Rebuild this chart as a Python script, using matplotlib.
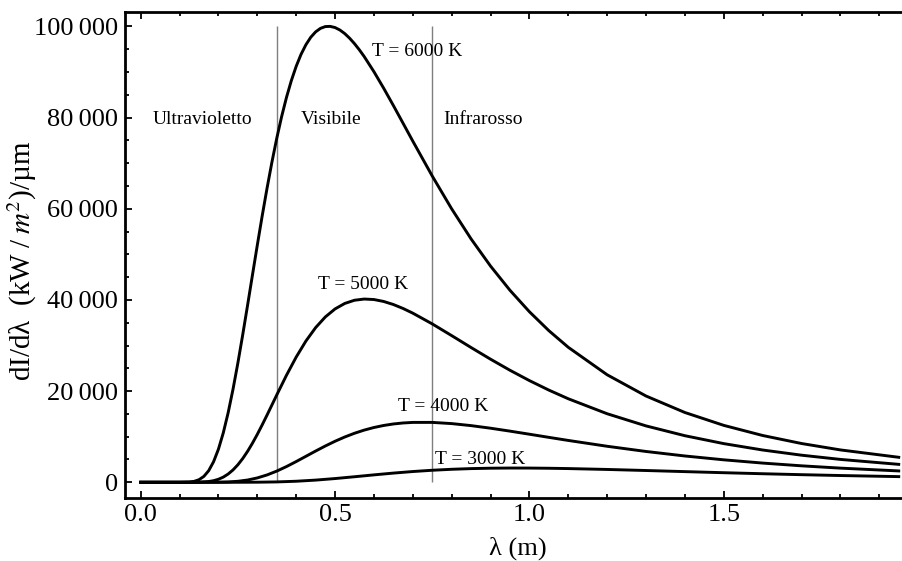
import matplotlib
matplotlib.use("Agg")
import matplotlib.pyplot as plt
from matplotlib.ticker import FixedLocator, FixedFormatter, MultipleLocator

# curve: lunghezza d'onda (um) e dI/dlambda (kW/m^2/um)
lam_6000 = [0.0, 0.05, 0.10, 0.125, 0.1375, 0.15, 0.1625, 0.175, 0.1875, 0.20,
            0.2125, 0.225, 0.2375, 0.25, 0.2625, 0.275, 0.2875, 0.30, 0.3125, 0.325,
            0.3375, 0.35, 0.3625, 0.375, 0.3875, 0.40, 0.4125, 0.425, 0.4375, 0.45,
            0.4625, 0.475, 0.4875, 0.50, 0.5125, 0.525, 0.5375, 0.55, 0.5625, 0.575,
            0.60, 0.625, 0.65, 0.675, 0.70, 0.75, 0.80, 0.85, 0.90, 0.95,
            1.00, 1.05, 1.10, 1.20, 1.30, 1.40, 1.50, 1.60, 1.70, 1.80, 1.95]
i_6000 = [0, 0, 1, 57, 203, 562, 1288, 2551, 4507, 7257,
          10846, 15256, 20404, 26161, 32368, 38855, 45456, 52021, 58405, 64489,
          70196, 75454, 80198, 84426, 88109, 91257, 93881, 95991, 97633, 98816,
          99589, 99981, 100022, 99765, 99222, 98435, 97421, 96231, 94881, 93397,
          90082, 86467, 82664, 78763, 74849, 67194, 59990, 53384, 47431, 42119,
          37414, 33264, 29612, 23583, 18924, 15308, 12485, 10265, 8505, 7099, 5483]

lam_5000 = [0.0, 0.05, 0.10, 0.125, 0.15, 0.175, 0.1875, 0.20, 0.2125, 0.225,
            0.2375, 0.25, 0.2625, 0.275, 0.2875, 0.30, 0.3125, 0.325, 0.3375, 0.35,
            0.375, 0.40, 0.425, 0.45, 0.475, 0.50, 0.525, 0.55, 0.575, 0.60,
            0.625, 0.65, 0.675, 0.70, 0.75, 0.80, 0.85, 0.90, 0.95, 1.00,
            1.05, 1.10, 1.20, 1.30, 1.40, 1.50, 1.60, 1.70, 1.80, 1.95]
i_5000 = [0, 0, 0, 1, 23, 165, 349, 660, 1135, 1811,
          2709, 3843, 5208, 6791, 8571, 10514, 12583, 14736, 16940, 19152,
          23471, 27466, 30982, 33930, 36276, 38032, 39236, 39938, 40202, 40093,
          39672, 39001, 38131, 37104, 34749, 32177, 29560, 27004, 24573, 22310,
          20224, 18322, 15036, 12369, 10216, 8481, 7080, 5943, 5017, 3933]

lam_4000 = [0.0, 0.05, 0.10, 0.125, 0.15, 0.175, 0.20, 0.225, 0.25, 0.275,
            0.30, 0.325, 0.35, 0.375, 0.40, 0.425, 0.45, 0.475, 0.50, 0.525,
            0.55, 0.575, 0.60, 0.625, 0.65, 0.675, 0.70, 0.75, 0.80, 0.85,
            0.90, 0.95, 1.00, 1.05, 1.10, 1.20, 1.30, 1.40, 1.50, 1.60,
            1.70, 1.80, 1.95]
i_4000 = [0, 0, 0, 0, 0, 3, 18, 74, 216, 496,
          956, 1610, 2452, 3445, 4544, 5696, 6851, 7963, 9000, 9936,
          10755, 11449, 12017, 12463, 12792, 13013, 13136, 13138, 12876, 12431,
          11863, 11222, 10544, 9857, 9179, 7900, 6759, 5770, 4927, 4213,
          3611, 3105, 2492]

lam_3000 = [0.0, 0.20, 0.25, 0.30, 0.35, 0.40, 0.45, 0.50, 0.55, 0.60,
            0.65, 0.70, 0.75, 0.80, 0.85, 0.90, 0.95, 1.00, 1.05, 1.10,
            1.20, 1.30, 1.40, 1.50, 1.60, 1.70, 1.80, 1.95]
i_3000 = [0, 0, 2, 18, 80, 227, 477, 818, 1214, 1626,
          2015, 2358, 2638, 2852, 3000, 3088, 3125, 3118, 3076, 3007,
          2815, 2583, 2339, 2100, 1875, 1668, 1482, 1241]

# limiti delle bande (um)
limiti_bande = [0.35, 0.75]
nomi_bande = ["Ultravioletto", "Visibile", "Infrarosso"]
nomi_curve = ["T = 6000 K", "T = 5000 K", "T = 4000 K", "T = 3000 K"]

x_ticks = [0.0, 0.5, 1.0, 1.5]
x_tick_labels = ["0.0", "0.5", "1.0", "1.5"]
y_ticks = [0, 20000, 40000, 60000, 80000, 100000]
y_tick_labels = ["0", "20\u2009000", "40\u2009000", "60\u2009000", "80\u2009000", "100\u2009000"]

plt.rcParams['font.family'] = ['Liberation Serif', 'DejaVu Serif']
plt.rcParams['mathtext.fontset'] = 'stix'

fig = plt.figure(figsize=(9.03, 5.61), dpi=100)
ax = fig.add_axes([0.1384, 0.1118, 0.8616, 0.8674])

# curve di Planck
curve = [(lam_6000, i_6000), (lam_5000, i_5000), (lam_4000, i_4000), (lam_3000, i_3000)]
for x, y in curve:
    ax.plot(x, y, color='black', lw=2.1, solid_joinstyle='round', zorder=3)

# separazione UV / visibile / IR
ax.vlines(limiti_bande, 0, 100000, colors='#7f7f7f', lw=1.0, zorder=2)

# testi
fs_txt = 14
ax.text(0.158, 78600, nomi_bande[0], ha='center', va='baseline', fontsize=fs_txt)
ax.text(0.490, 78600, nomi_bande[1], ha='center', va='baseline', fontsize=fs_txt)
ax.text(0.880, 78600, nomi_bande[2], ha='center', va='baseline', fontsize=fs_txt)
ax.text(0.712, 93600, nomi_curve[0], ha='center', va='baseline', fontsize=fs_txt)
ax.text(0.571, 42340, nomi_curve[1], ha='center', va='baseline', fontsize=fs_txt)
ax.text(0.778, 15640, nomi_curve[2], ha='center', va='baseline', fontsize=fs_txt)
ax.text(0.874, 4080, nomi_curve[3], ha='center', va='baseline', fontsize=fs_txt)

ax.set_xlim(-0.0404, 1.961)
ax.set_ylim(-3510, 103250)

ax.xaxis.set_major_locator(FixedLocator(x_ticks))
ax.xaxis.set_major_formatter(FixedFormatter(x_tick_labels))
ax.xaxis.set_minor_locator(MultipleLocator(0.1))
ax.yaxis.set_major_locator(FixedLocator(y_ticks))
ax.yaxis.set_major_formatter(FixedFormatter(y_tick_labels))
ax.yaxis.set_minor_locator(MultipleLocator(5000))

ax.tick_params(which='both', direction='in', top=True, right=False,
               labelsize=19, width=1.3, color='black')
ax.tick_params(which='major', length=5)
ax.tick_params(which='minor', length=3)
ax.tick_params(axis='y', pad=5)
ax.tick_params(axis='x', pad=4)

for side in ['left', 'bottom', 'top']:
    ax.spines[side].set_linewidth(2.0)
ax.spines['right'].set_visible(False)

fig.text(518 / 903, 13 / 561, "\u03bb (m)", ha='center', va='center', fontsize=19)
fig.text(22 / 903, 300 / 561, "dI/d\u03bb  (kW\u2009/\u2009$m^2$)/\u00b5m",
         ha='center', va='center', rotation=90, fontsize=21)

fig.savefig("out.png", dpi=100)
